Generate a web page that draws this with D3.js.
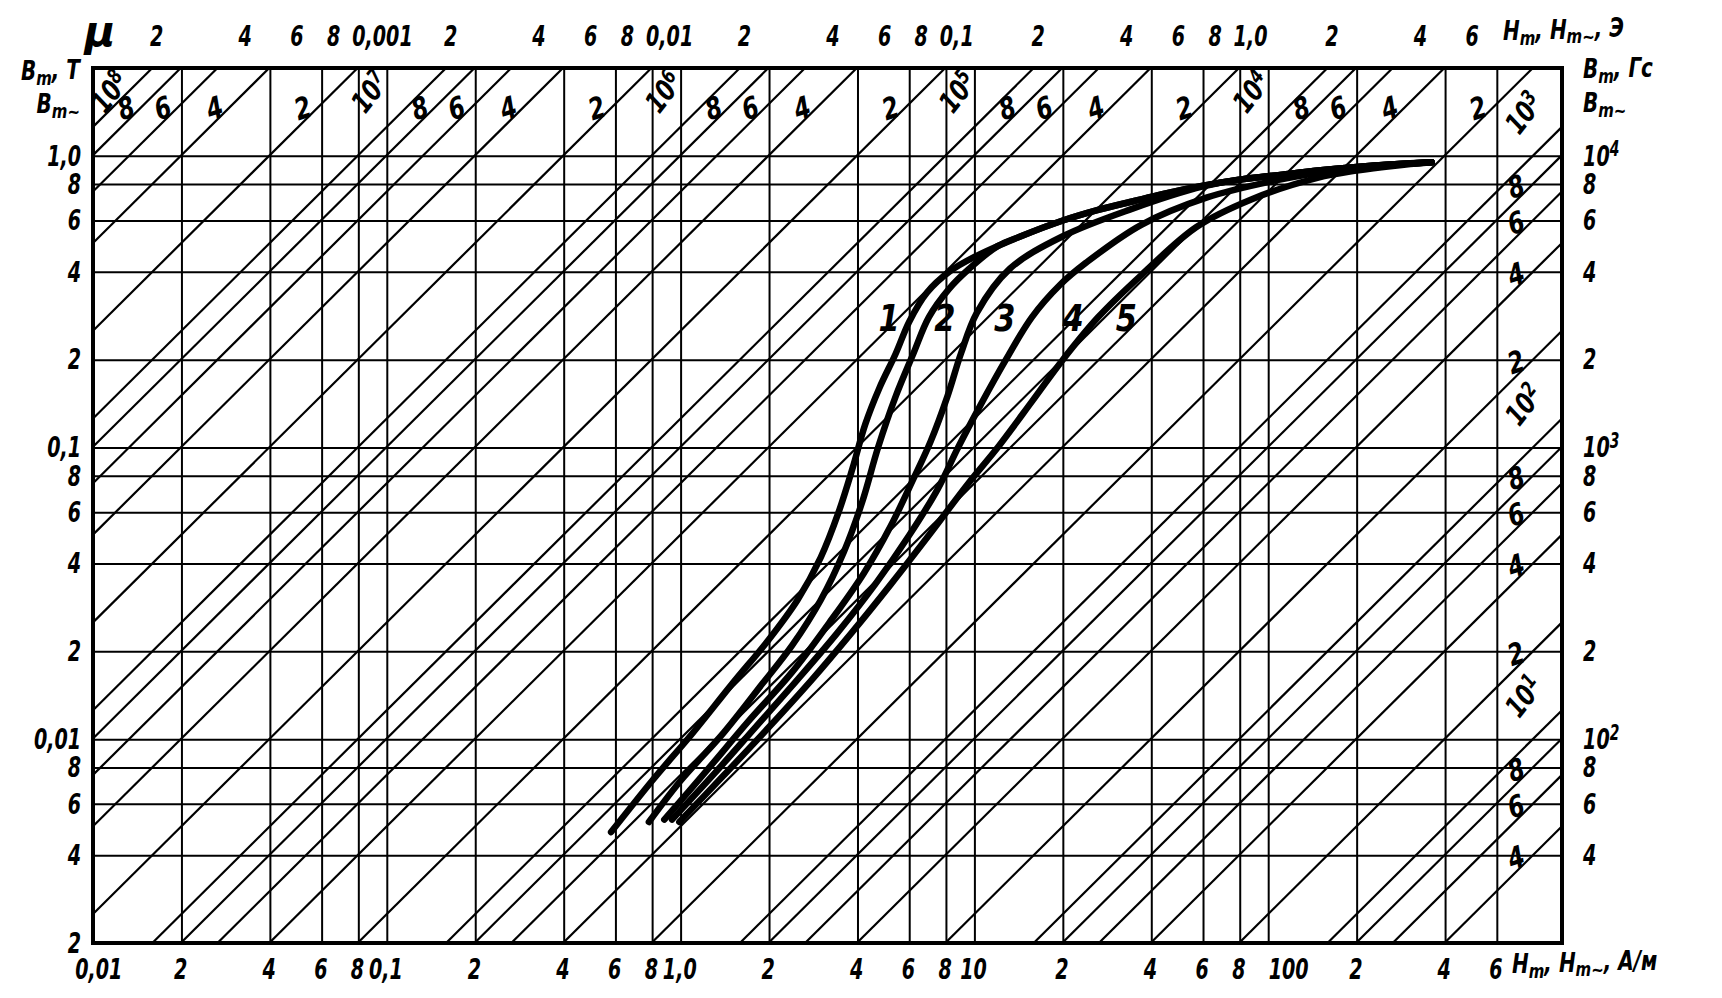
<!DOCTYPE html>
<html>
<head>
<meta charset="utf-8">
<script src="https://cdn.jsdelivr.net/npm/d3@7"></script>
<style>
  body { margin: 0; background: #fff; }
  text { fill: #000; font-style: italic; font-weight: bold; }
</style>
</head>
<body>
<svg width="1722" height="998"></svg>
<script>
// H grid (A/m) and its labels along the bottom
const hTicks = [0.01, 0.02, 0.04, 0.06, 0.08, 0.1, 0.2, 0.4, 0.6, 0.8, 1, 2, 4, 6, 8, 10, 20, 40, 60, 80, 100, 200, 400, 600];
const hLabels = ["0,01", "2", "4", "6", "8", "0,1", "2", "4", "6", "8", "1,0", "2", "4", "6", "8", "10", "2", "4", "6", "8", "100", "2", "4", "6"];

// B grid (T) with Tesla labels (left) and Gauss labels (right)
const bTicks = [0.002, 0.004, 0.006, 0.008, 0.01, 0.02, 0.04, 0.06, 0.08, 0.1, 0.2, 0.4, 0.6, 0.8, 1];
const bLabelsT = ["2", "4", "6", "8", "0,01", "2", "4", "6", "8", "0,1", "2", "4", "6", "8", "1,0"];
const bLabelsGs = ["", "4", "6", "8", "10^2", "2", "4", "6", "8", "10^3", "2", "4", "6", "8", "10^4"];

// top scale in oersted
const oeTicks = [0.0002, 0.0004, 0.0006, 0.0008, 0.001, 0.002, 0.004, 0.006, 0.008, 0.01, 0.02, 0.04, 0.06, 0.08, 0.1, 0.2, 0.4, 0.6, 0.8, 1, 2, 4, 6];
const oeLabels = ["2", "4", "6", "8", "0,001", "2", "4", "6", "8", "0,01", "2", "4", "6", "8", "0,1", "2", "4", "6", "8", "1,0", "2", "4", "6"];

// permeability lines
const muTop = [1e8, 8e7, 6e7, 4e7, 2e7, 1e7, 8e6, 6e6, 4e6, 2e6, 1e6, 8e5, 6e5, 4e5, 2e5, 1e5, 8e4, 6e4, 4e4, 2e4, 1e4, 8e3, 6e3, 4e3, 2e3];
const muTopLabels = ["10^8", "8", "6", "4", "2", "10^7", "8", "6", "4", "2", "10^6", "8", "6", "4", "2", "10^5", "8", "6", "4", "2", "10^4", "8", "6", "4", "2"];
const muRight = [1e3, 800, 600, 400, 200, 100, 80, 60, 40, 20, 10, 8, 6, 4];
const muRightLabels = ["10^3", "8", "6", "4", "2", "10^2", "8", "6", "4", "2", "10^1", "8", "6", "4"];

// magnetization curves, [H A/m, B T]
const curveTop = [[10, 0.45], [14.4, 0.53], [20, 0.6], [26, 0.65], [35, 0.7], [44, 0.74], [60, 0.79], [81, 0.83], [110, 0.86], [148, 0.89], [200, 0.915], [270, 0.935], [360, 0.95]];
const curve1 = [[0.58, 0.0048], [0.8, 0.0072], [1.1, 0.0105], [1.5, 0.0155], [2.0, 0.022], [2.5, 0.03], [3.0, 0.042], [3.45, 0.06], [3.85, 0.085], [4.25, 0.12], [4.75, 0.16], [5.4, 0.21], [6.0, 0.27], [6.9, 0.34], [8.2, 0.4]];
const curve2 = [[0.78, 0.0052], [1.0, 0.0072], [1.4, 0.0105], [1.9, 0.0155], [2.4, 0.021], [3.0, 0.03], [3.6, 0.044], [4.15, 0.065], [4.7, 0.1], [5.4, 0.15], [6.2, 0.21], [7.0, 0.28], [8.2, 0.35], [9.6, 0.41], [12, 0.49]];
const curve3 = [[0.88, 0.0053], [1.2, 0.0076], [1.7, 0.0115], [2.4, 0.017], [3.2, 0.025], [4.2, 0.037], [5.2, 0.054], [6.2, 0.078], [7.1, 0.105], [8.1, 0.15], [9.0, 0.21], [10.2, 0.29], [13.2, 0.41], [20, 0.53], [34, 0.655], [60, 0.785]];
const curve4 = [[0.935, 0.0053], [1.3, 0.0076], [1.8, 0.011], [2.5, 0.016], [3.4, 0.023], [4.6, 0.034], [6.0, 0.05], [7.5, 0.072], [8.8, 0.1], [10.5, 0.14], [12.8, 0.2], [15.7, 0.28], [19.5, 0.36], [24, 0.43], [37, 0.58], [62, 0.72], [104, 0.82], [148, 0.875], [200, 0.91]];
const curve5 = [[0.99, 0.0052], [1.4, 0.0075], [2.0, 0.011], [2.8, 0.016], [3.8, 0.023], [5.2, 0.034], [7.0, 0.05], [9.5, 0.075], [12, 0.1], [15.8, 0.145], [20, 0.2], [26.4, 0.28], [37, 0.39], [57, 0.57], [88, 0.71], [147, 0.84], [200, 0.89], [270, 0.925], [360, 0.95]];
const curveNames = ["1", "2", "3", "4", "5"];

const FONT = '"DejaVu Sans", sans-serif';
const SX = 0.66; // horizontal squeeze, the drawing uses a narrow lettering
const MU0 = 4e-7 * Math.PI;
const OE = 1000 / (4 * Math.PI);

const svg = d3.select("svg");
const X0 = 93, X1 = 1562, Y0 = 68, Y1 = 943;

const x = d3.scaleLog().domain([0.01, 1000]).range([X0, X1]);
const y = d3.scaleLog().domain([0.002, 2]).range([Y1, Y0]);

// "a^b" -> a with raised b
function rich(sel) {
  sel.each(function () {
    const t = d3.select(this);
    const s = t.text();
    if (s.includes("^")) {
      const [a, b] = s.split("^");
      t.text(a);
      t.append("tspan").attr("dy", "-0.45em").attr("font-size", "0.72em").text(b);
    }
  });
}

svg.append("clipPath").attr("id", "plot")
  .append("rect").attr("x", X0).attr("y", Y0).attr("width", X1 - X0).attr("height", Y1 - Y0);

const grid = svg.append("g").attr("clip-path", "url(#plot)");

grid.append("g")
  .attr("transform", `translate(0,${Y1})`)
  .call(d3.axisBottom(x).tickValues(hTicks.slice(1)).tickSize(-(Y1 - Y0)).tickFormat(""))
  .call((g) => g.select(".domain").remove())
  .selectAll("line").attr("stroke", "#000").attr("stroke-width", 2);

grid.append("g")
  .attr("transform", `translate(${X0},0)`)
  .call(d3.axisLeft(y).tickValues(bTicks.slice(1)).tickSize(-(X1 - X0)).tickFormat(""))
  .call((g) => g.select(".domain").remove())
  .selectAll("line").attr("stroke", "#000").attr("stroke-width", 2);

// constant permeability lines B = mu*mu0*H
const muAll = muTop.concat(muRight);
grid.selectAll("line.mu")
  .data(muAll)
  .join("line")
  .attr("class", "mu")
  .attr("x1", (m) => x(Math.max(0.01, 0.002 / (m * MU0))))
  .attr("y1", (m) => y(Math.max(0.002, m * MU0 * 0.01)))
  .attr("x2", (m) => x(Math.min(1000, 2 / (m * MU0))))
  .attr("y2", (m) => y(Math.min(2, m * MU0 * 1000)))
  .attr("stroke", "#000")
  .attr("stroke-width", 2.2);

// curves
const line = d3.line()
  .x((d) => x(d[0]))
  .y((d) => y(d[1]))
  .curve(d3.curveCatmullRom.alpha(0.5));

const full = [
  curve1.concat(curveTop.filter((d) => d[0] > 8.2)),
  curve2.concat(curveTop.filter((d) => d[0] > 12)),
  curve3.concat(curveTop.filter((d) => d[0] > 60)),
  curve4.concat(curveTop.filter((d) => d[0] > 200)),
  curve5,
];

grid.selectAll("path.curve")
  .data(full)
  .join("path")
  .attr("class", "curve")
  .attr("d", line)
  .attr("fill", "none")
  .attr("stroke", "#000")
  .attr("stroke-width", 6.5)
  .attr("stroke-linecap", "round")
  .attr("stroke-linejoin", "round");

// frame
svg.append("rect")
  .attr("x", X0).attr("y", Y0).attr("width", X1 - X0).attr("height", Y1 - Y0)
  .attr("fill", "none").attr("stroke", "#000").attr("stroke-width", 4);

// axes with labels
function styleAxis(g) {
  g.attr("font-family", FONT).attr("font-size", 29);
  g.select(".domain").remove();
  g.selectAll("line").remove();
  g.selectAll("text").attr("fill", "#000").attr("transform", `scale(${SX},1)`);
}

svg.append("g")
  .attr("transform", `translate(0,${Y1})`)
  .call(d3.axisBottom(x).tickValues(hTicks).tickFormat((d, i) => hLabels[i]).tickSize(0))
  .call(styleAxis)
  .selectAll("text").attr("y", 36).attr("dy", 0)
  .attr("text-anchor", (d, i) => (hLabels[i] === "100" ? "start" : "middle"))
  .attr("dx", (d, i) => (i === 0 ? 8 : hLabels[i] === "100" ? 0 : -2));

svg.append("g")
  .attr("transform", `translate(${X0},0)`)
  .call(d3.axisLeft(y).tickValues(bTicks).tickFormat((d, i) => bLabelsT[i]).tickSize(0).tickPadding(18))
  .call(styleAxis);

svg.append("g")
  .attr("transform", `translate(${X1},0)`)
  .call(d3.axisRight(y).tickValues(bTicks).tickFormat((d, i) => bLabelsGs[i]).tickSize(0).tickPadding(32))
  .call(styleAxis)
  .selectAll("text").call(rich);

svg.append("g")
  .attr("transform", `translate(0,${Y0})`)
  .call(d3.axisTop(x).tickValues(oeTicks.map((h) => h * OE)).tickFormat((d, i) => oeLabels[i]).tickSize(0).tickPadding(22))
  .call(styleAxis)
  .selectAll("text")
  .attr("text-anchor", (d, i) => (oeLabels[i].length > 1 ? "start" : "middle"))
  .attr("dx", (d, i) => (oeLabels[i].length > 1 ? -9 : 6));

// permeability labels
const muLab = svg.append("g").attr("font-family", FONT);
const hAt = (px) => x.invert(px);
const bAt = (py) => y.invert(py);

function muText(s, lx, ly) {
  const power = s.includes("^");
  muLab.append("text")
    .attr("transform", `translate(${lx},${ly}) rotate(${power ? -52 : -18}) scale(${SX + 0.1},1)`)
    .attr("text-anchor", "middle")
    .attr("dy", "0.35em")
    .attr("font-size", power ? 29 : 30)
    .text(s)
    .call(rich);
}

muTop.forEach((m, i) => {
  const s = muTopLabels[i];
  const power = s.includes("^");
  const ly = power ? 92 : 108;
  const k = power ? 1.5 : 1.12;
  const lx = Math.max(x(bAt(ly) / (m * k * MU0)), 110);
  muText(s, lx, ly);
});

muRight.forEach((m, i) => {
  const s = muRightLabels[i];
  const power = s.includes("^");
  const lx = power ? 1524 : 1516;
  const k = power ? 1.5 : 1.12;
  muText(s, lx, y(m * k * MU0 * hAt(lx)));
});

// curve numbers, beside each curve near B = 0.28 T
const labelB = 0.28;
const labelDx = [-38, 16, 28, 41, 28];
full.forEach((c, i) => {
  const p = c.find((d) => d[1] >= labelB);
  svg.append("text")
    .attr("transform", `translate(${x(p[0]) + labelDx[i]},${y(labelB) + 14}) scale(0.8,1)`)
    .attr("text-anchor", "middle")
    .attr("font-family", FONT)
    .attr("font-size", 38)
    .text(curveNames[i]);
});

// unit titles
const titles = svg.append("g").attr("font-family", FONT).attr("font-size", 27);

function title(px, py, anchor, parts) {
  const t = titles.append("text")
    .attr("transform", `translate(${px},${py}) scale(${SX + 0.08},1)`)
    .attr("text-anchor", anchor);
  parts.forEach(([s, low]) => {
    if (low) t.append("tspan").attr("font-size", "0.75em").attr("dy", "0.22em").text(s);
    else t.append("tspan").attr("dy", t.selectAll("tspan").size() ? "-0.22em" : null).text(s);
  });
}

title(80, 86, "end", [["B"], ["m", 1], [", T"]]);
title(80, 119, "end", [["B"], ["m~", 1]]);
title(1583, 84, "start", [["B"], ["m", 1], [", Гс"]]);
title(1583, 118, "start", [["B"], ["m~", 1]]);
title(1512, 979, "start", [["H"], ["m", 1], [", H"], ["m~", 1], [", A/м"]]);
title(1503, 46, "start", [["H"], ["m", 1], [", H"], ["m~", 1], [", Э"]]);

titles.append("text").attr("x", 100).attr("y", 46).attr("text-anchor", "middle")
  .attr("font-size", 42).text("μ");
</script>
</body>
</html>
